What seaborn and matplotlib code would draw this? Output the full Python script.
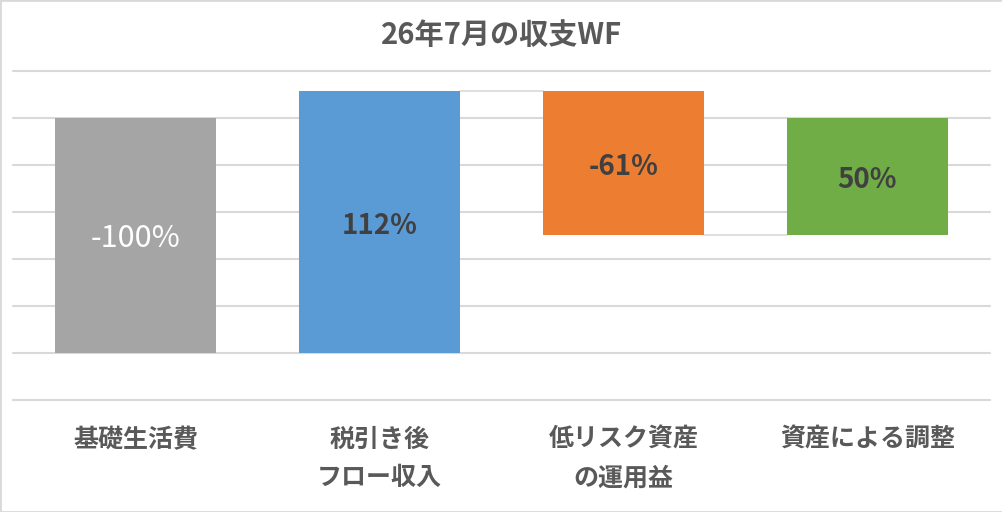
import matplotlib
matplotlib.use("Agg")
import matplotlib.pyplot as plt
from matplotlib.patches import Rectangle
import seaborn as sns
import pandas as pd

categories = ["基礎生活費", "税引き後\nフロー収入", "低リスク資産\nの運用益", "資産による調整"]
label_values = [-100, 112, -61, 50]
bar_bottoms = [0, 0, 50.3, 50.3]
bar_tops = [100, 111.5, 111.5, 100]
colors = ["#A5A5A5", "#5B9BD5", "#ED7D31", "#70AD47"]
title = "26年7月の収支WF"

sns.set_theme(style="white")
plt.rcParams["font.family"] = ["Noto Sans CJK JP", "DejaVu Sans"]

df = pd.DataFrame({
    "cat": categories,
    "height": [t - b for t, b in zip(bar_tops, bar_bottoms)],
})

fig = plt.figure(figsize=(10.03, 5.12), dpi=100)
ax = fig.add_axes([13.5 / 1003, 1 - 400 / 512, 976 / 1003, (400 - 70.5) / 512])

sns.barplot(data=df, x="cat", y="height", hue="cat", palette=colors,
            width=0.66, legend=False, ax=ax, saturation=1, zorder=2)

for patch, b in zip(ax.patches, bar_bottoms):
    patch.set_y(b)
    patch.set_linewidth(0)

ax.set_ylim(-20, 120)
ax.set_xlim(-0.5, 3.5)
ax.set_yticks(range(-20, 121, 20))
ax.yaxis.grid(True, color="#D9D9D9", linewidth=1.5, zorder=0)
ax.set_axisbelow(True)
for gl in ax.get_ygridlines():
    gl.set_clip_on(False)
ax.tick_params(axis="y", left=False, labelleft=False)
ax.tick_params(axis="x", bottom=False, pad=14, labelsize=18, labelcolor="#595959")
for lab in ax.get_xticklabels():
    lab.set_fontweight("bold")
    lab.set_linespacing(1.75)
ax.set_xlabel("")
ax.set_ylabel("")
for s in ax.spines.values():
    s.set_visible(False)

# connectors between consecutive bars
connector_levels = [bar_tops[0], bar_tops[1], bar_bottoms[2]]
hw = 0.33
for i, level in enumerate(connector_levels):
    ax.plot([i + hw, i + 1 - hw], [level, level], color="#D9D9D9", lw=1.2, zorder=1)

# labels
for i, (v, b, t) in enumerate(zip(label_values, bar_bottoms, bar_tops)):
    if i == 0:
        ax.text(i, (b + t) / 2 - 1.2, f"{v}%", ha="center", va="center", color="white",
                fontsize=22, zorder=3)
    else:
        ax.text(i, (b + t) / 2 - 1.7, f"{v}%", ha="center", va="center", color="#404040",
                fontsize=20, fontweight="bold", zorder=3)

fig.text(0.5, 1 - 35 / 512, title, ha="center", va="center", fontsize=21,
         fontweight="bold", color="#595959")

fig.add_artist(Rectangle((0, 0), 1, 1, transform=fig.transFigure, fill=False,
                         edgecolor="#D9D9D9", lw=2))

fig.savefig("out.png", dpi=100)
